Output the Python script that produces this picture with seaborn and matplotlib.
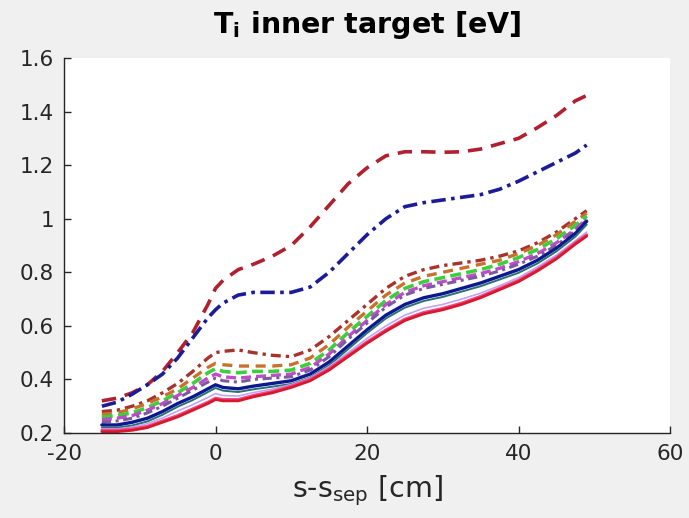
import matplotlib
matplotlib.use("Agg")
import matplotlib.pyplot as plt
import seaborn as sns
import pandas as pd

# ---- data ----
s_cm = [-15, -13, -11, -9, -7, -5, -3, -1, 0, 1, 3, 5, 7.5, 10, 12.5, 15, 17.5, 20,
        22.5, 25, 27.5, 30, 32.5, 35, 37.5, 40, 42.5, 45, 47.5, 49]

red_dash = [0.32, 0.33, 0.35, 0.38, 0.43, 0.50, 0.575, 0.68, 0.74, 0.77, 0.81, 0.83, 0.86, 0.90,
            0.97, 1.05, 1.13, 1.19, 1.235, 1.25, 1.25, 1.248, 1.25, 1.26, 1.28, 1.30, 1.34, 1.385, 1.44, 1.46]
blue_dashdot = [0.30, 0.315, 0.345, 0.38, 0.42, 0.48, 0.555, 0.63, 0.66, 0.685, 0.715, 0.725, 0.725, 0.725,
                0.745, 0.80, 0.87, 0.94, 1.0, 1.045, 1.06, 1.07, 1.08, 1.09, 1.11, 1.14, 1.175, 1.21, 1.245, 1.275]
brown_dashdot = [0.28, 0.285, 0.30, 0.32, 0.35, 0.385, 0.43, 0.48, 0.50, 0.505, 0.51, 0.50, 0.49, 0.485,
                 0.51, 0.56, 0.62, 0.68, 0.74, 0.785, 0.81, 0.825, 0.835, 0.845, 0.86, 0.88, 0.91, 0.95, 1.00, 1.03]
orange_dash = [0.27, 0.275, 0.29, 0.31, 0.335, 0.365, 0.405, 0.445, 0.46, 0.455, 0.45, 0.45, 0.45, 0.455,
               0.48, 0.53, 0.595, 0.655, 0.715, 0.76, 0.785, 0.80, 0.815, 0.83, 0.845, 0.87, 0.90, 0.94, 0.99, 1.02]
green_dash = [0.26, 0.265, 0.275, 0.295, 0.32, 0.35, 0.385, 0.425, 0.44, 0.43, 0.425, 0.43, 0.43, 0.435,
              0.46, 0.51, 0.575, 0.635, 0.695, 0.74, 0.765, 0.78, 0.795, 0.81, 0.83, 0.855, 0.885, 0.925, 0.975, 1.01]
magenta_dash = [0.25, 0.255, 0.265, 0.285, 0.31, 0.34, 0.37, 0.405, 0.42, 0.41, 0.405, 0.41, 0.415, 0.42,
                0.445, 0.495, 0.56, 0.62, 0.68, 0.725, 0.75, 0.765, 0.78, 0.795, 0.815, 0.84, 0.87, 0.91, 0.96, 1.00]
purple_dashdot = [0.24, 0.245, 0.255, 0.275, 0.30, 0.33, 0.36, 0.39, 0.405, 0.395, 0.39, 0.40, 0.405, 0.41,
                  0.435, 0.485, 0.55, 0.61, 0.67, 0.715, 0.74, 0.755, 0.77, 0.785, 0.805, 0.83, 0.86, 0.90, 0.955, 0.995]
navy_solid = [0.23, 0.23, 0.24, 0.255, 0.28, 0.31, 0.335, 0.365, 0.38, 0.37, 0.365, 0.375, 0.385, 0.395,
              0.42, 0.465, 0.525, 0.585, 0.64, 0.68, 0.705, 0.72, 0.74, 0.76, 0.785, 0.81, 0.845, 0.89, 0.945, 0.99]
teal_solid = [0.22, 0.22, 0.228, 0.243, 0.268, 0.298, 0.323, 0.353, 0.368, 0.358, 0.353, 0.363, 0.373, 0.383,
              0.408, 0.453, 0.513, 0.573, 0.628, 0.668, 0.693, 0.708, 0.728, 0.748, 0.773, 0.798, 0.833, 0.878, 0.933, 0.978]
lilac_solid = [0.215, 0.215, 0.222, 0.235, 0.256, 0.282, 0.306, 0.333, 0.347, 0.34, 0.338, 0.351, 0.364, 0.381,
               0.406, 0.448, 0.5, 0.553, 0.6, 0.64, 0.666, 0.68, 0.7, 0.722, 0.75, 0.78, 0.82, 0.864, 0.918, 0.95]
pink_solid = [0.21, 0.21, 0.215, 0.225, 0.245, 0.265, 0.29, 0.315, 0.33, 0.325, 0.325, 0.34, 0.355, 0.375,
              0.40, 0.44, 0.49, 0.54, 0.585, 0.625, 0.65, 0.665, 0.685, 0.71, 0.74, 0.77, 0.81, 0.855, 0.91, 0.94]
red_solid = [0.205, 0.205, 0.21, 0.22, 0.24, 0.26, 0.285, 0.31, 0.325, 0.32, 0.32, 0.335, 0.35, 0.37,
             0.395, 0.435, 0.485, 0.535, 0.58, 0.62, 0.645, 0.66, 0.68, 0.705, 0.735, 0.765, 0.805, 0.85, 0.905, 0.935]

x_ticks = [-20, 0, 20, 40, 60]
y_ticks = [0.2, 0.4, 0.6, 0.8, 1.0, 1.2, 1.4, 1.6]
y_tick_labels = ["0.2", "0.4", "0.6", "0.8", "1", "1.2", "1.4", "1.6"]

series = [
    (red_dash, "#b0202e", (0, (4, 2.5)), 2.6),
    (blue_dashdot, "#1c1c96", (0, (4, 1.5, 1, 1.5)), 2.6),
    (brown_dashdot, "#a8322c", (0, (3, 1.5, 1, 1.5)), 2.4),
    (orange_dash, "#c8702e", (0, (3, 2)), 2.4),
    (green_dash, "#3ccf3c", (0, (3, 1.5)), 2.6),
    (magenta_dash, "#c04cc8", (0, (3, 1.5)), 2.4),
    (purple_dashdot, "#7d5a9e", (0, (3, 1.5, 1, 1.5)), 2.2),
    (navy_solid, "#0c1890", "-", 2.4),
    (teal_solid, "#2a6f74", "-", 1.4),
    (lilac_solid, "#c0a6f0", "-", 1.2),
    (pink_solid, "#f04a8c", "-", 2.2),
    (red_solid, "#d8182c", "-", 2.0),
]

sns.set_style("white")
plt.rcParams['font.family'] = ['DejaVu Sans']

fig = plt.figure(figsize=(6.89, 5.18), dpi=100, facecolor="#f0f0f0")
ax = fig.add_axes([64 / 689, 1 - 433 / 518, (670 - 64) / 689, (433 - 58) / 518])
ax.set_facecolor("white")

for vals, col, ls, lw in series:
    df = pd.DataFrame({"s": s_cm, "T": vals})
    sns.lineplot(data=df, x="s", y="T", color=col, linestyle=ls, linewidth=lw, ax=ax)

ax.set_xlim(-20, 60)
ax.set_ylim(0.2, 1.6)
ax.set_xticks(x_ticks)
ax.set_xticklabels([str(v) for v in x_ticks])
ax.set_yticks(y_ticks)
ax.set_yticklabels(y_tick_labels)

for side in ["top", "right"]:
    ax.spines[side].set_visible(False)
for side in ["left", "bottom"]:
    ax.spines[side].set_color("#262626")
    ax.spines[side].set_linewidth(1.0)

ax.tick_params(axis="both", direction="in", length=5, width=1, colors="#262626",
               labelsize=15.5, left=True, bottom=True)
ax.tick_params(axis="x", pad=8)
ax.tick_params(axis="y", pad=7)

ax.set_xlabel(r"s-s$_{\mathrm{sep}}$ [cm]", fontsize=20.5, color="#262626", labelpad=7)
ax.set_ylabel("")
ax.set_title(r"T$_{\mathbf{i}}$ inner target [eV]", fontsize=20.5, fontweight="bold",
             color="black", pad=18)

fig.savefig("out.png", dpi=100, facecolor=fig.get_facecolor())
